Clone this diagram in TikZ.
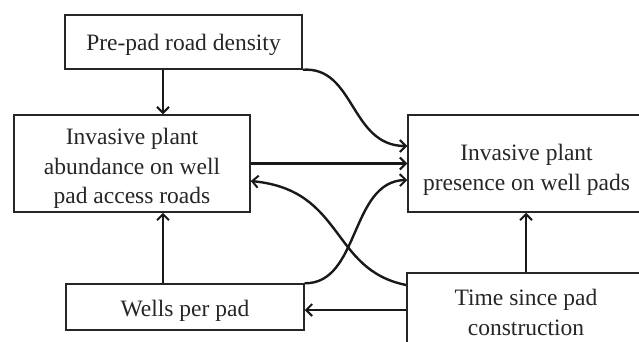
\documentclass[tikz,border=0pt]{standalone}
\usepackage{fontspec}
\setmainfont{Liberation Serif}
\usetikzlibrary{arrows.meta}
\newcommand{\lift}[1]{\rule{0pt}{#1pt}}
\begin{document}
\begin{tikzpicture}[x=1pt,y=-1pt,
  box/.style={draw=black!85,line width=1.5pt,rectangle,inner sep=0pt,align=center,
    font=\fontsize{23.5}{29.5}\selectfont,text=black!85},
  link/.style={draw=black!90,line width=2.4pt,-{Straight Barb[length=6pt,width=12pt,line width=2pt]}}]
\useasboundingbox (0,0) rectangle (639,341);
\fill[white] (0,0) rectangle (639,341);
\clip (0,0) rectangle (639,341);
\node[box,minimum width=237pt,minimum height=54pt] (A) at (183.5,42) {\lift{22.5}Pre-pad road density};
\node[box,minimum width=236pt,minimum height=97pt] (B) at (132,163.5) {\lift{26.5}Invasive plant\\abundance on well\\pad access roads};
\node[box,minimum width=238pt,minimum height=46pt] (C) at (185,307) {\lift{24.5}Wells per pad};
\node[box,minimum width=237pt,minimum height=97pt] (D) at (526.5,163.5) {\lift{28.5}Invasive plant\\presence on well pads};
\node[box,minimum width=238pt,minimum height=77pt] (E) at (526,311.5) {\lift{18.5}Time since pad\\construction};
\coordinate (colx) at (163,0);
\coordinate (cole) at (526,0);
\draw[link] (A.south -| colx) -- (B.north -| colx);
\draw[link] (C.north -| colx) -- (B.south -| colx);
\draw[link] (B.east) -- (D.west);
\draw[link] (E.west |- 0,310) -- (C.east |- 0,310);
\draw[link] (E.north -| cole) -- (D.south -| cole);
\draw[link] (A.south east) .. controls (355,66) and (350,146) .. (D.west |- 0,146);
\draw[link] (E.north west |- 0,285) .. controls (330,270) and (345,190) .. (B.east |- 0,181);
\draw[link] (C.north east) .. controls (360,284) and (350,181) .. (D.west |- 0,180);
\end{tikzpicture}
\end{document}
